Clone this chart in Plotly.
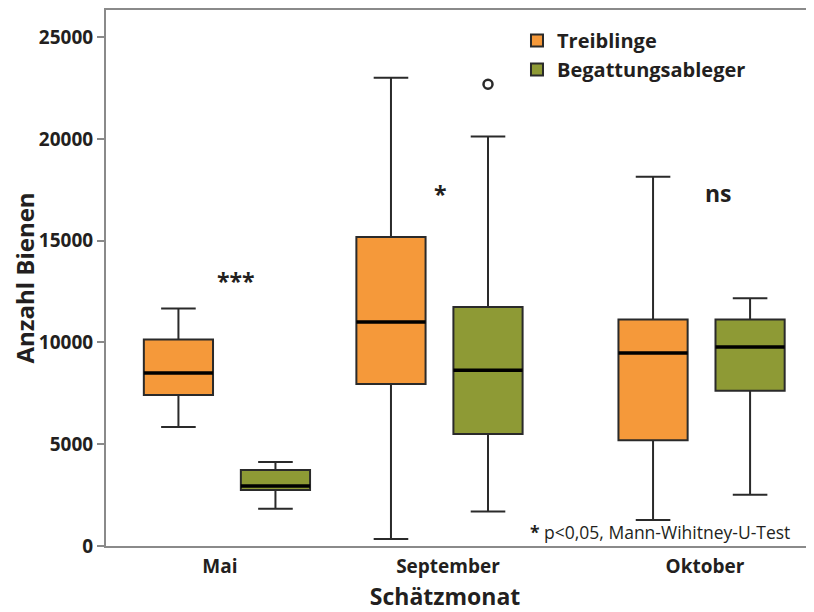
import plotly.graph_objects as go

# ---- data ----
months = ["Mai", "September", "Oktober"]
month_pos = [0.0, 1.0, 2.233]      # box-group positions on the x axis (uneven spacing as in reference)
label_pos = [-0.033, 1.04, 2.249]  # where the month labels sit

treib_low = [5840, 340, 1280]
treib_q1 = [7420, 7960, 5200]
treib_med = [8500, 11000, 9480]
treib_q3 = [10150, 15180, 11130]
treib_high = [11670, 23000, 18140]

begatt_low = [1830, 1690, 2520]
begatt_q1 = [2750, 5500, 7630]
begatt_med = [2950, 8630, 9780]
begatt_q3 = [3730, 11740, 11130]
begatt_high = [4130, 20110, 12170]

outlier_month = ["September"]
outlier_value = [22680]

sig_labels = ["***", "*", "ns"]

# ---- styles ----
ORANGE = "#F5993A"
GREEN = "#8E9A35"
LINE = "#2a2a2a"
AXIS = "#8a8a8a"
TXT = "#231f20"
FONT = "Open Sans, Noto Sans, DejaVu Sans, sans-serif"
BOXGAP = 0.087
BOXGROUPGAP = 0.287
box_offset = (1 - BOXGAP) / 4  # centre offset of each box within a group

fig = go.Figure()

fig.add_trace(go.Box(
    name="Treiblinge", x=month_pos, q1=treib_q1, median=treib_med, q3=treib_q3,
    lowerfence=treib_low, upperfence=treib_high, offsetgroup="T",
    fillcolor=ORANGE, line=dict(color=LINE, width=2), whiskerwidth=0.5,
    boxpoints=False, legendgroup="T"))
fig.add_trace(go.Box(
    name="Begattungsableger", x=month_pos, q1=begatt_q1, median=begatt_med, q3=begatt_q3,
    lowerfence=begatt_low, upperfence=begatt_high, offsetgroup="B",
    fillcolor=GREEN, line=dict(color=LINE, width=2), whiskerwidth=0.5,
    boxpoints=False, legendgroup="B"))

# thicker median lines
for med, grp in [(treib_med, "T"), (begatt_med, "B")]:
    fig.add_trace(go.Box(
        x=month_pos, q1=med, median=med, q3=med, lowerfence=med, upperfence=med,
        offsetgroup=grp, fillcolor="rgba(0,0,0,0)", line=dict(color="black", width=3.5),
        whiskerwidth=0, boxpoints=False, showlegend=False, hoverinfo="skip"))

# outlier of Begattungsableger in September
out_x = [month_pos[months.index(m)] + box_offset for m in outlier_month]
fig.add_trace(go.Scatter(
    x=out_x, y=outlier_value, mode="markers", showlegend=False,
    marker=dict(symbol="circle-open", size=9, color=LINE, line=dict(width=2.5, color=LINE))))

# significance labels
sig_y = [13020, 17270, 17340]
sig_dx = [0.042, 0.007, 0.082]
for lab, yv, dx, p in zip(sig_labels, sig_y, sig_dx, month_pos):
    fig.add_annotation(x=p + dx, y=yv, xref="x", yref="y", text=f"<b>{lab}</b>",
                       showarrow=False, font=dict(family=FONT, size=23, color=TXT))

fig.add_annotation(x=0.969, y=0.026, xref="paper", yref="paper", xanchor="right", yanchor="middle",
                   text="<b>*</b> p&lt;0,05, Mann-Wihitney-U-Test", showarrow=False,
                   font=dict(family=FONT, size=17.5, color=TXT))

fig.update_layout(
    width=806, height=604,
    margin=dict(l=98, r=0, t=2, b=66, autoexpand=False),
    paper_bgcolor="white", plot_bgcolor="white",
    boxmode="group", boxgap=BOXGAP, boxgroupgap=BOXGROUPGAP,
    font=dict(family=FONT, color=TXT),
    legend=dict(x=0.5805, y=0.9795, xanchor="left", yanchor="top",
                font=dict(family=FONT, size=20, color=TXT, weight="bold"),
                bgcolor="rgba(0,0,0,0)", tracegroupgap=0),
    showlegend=True,
)

fig.update_xaxes(
    range=[-0.569, 2.762], tickvals=label_pos, ticktext=[f"<b>{m}</b>" for m in months],
    showgrid=False, zeroline=False, showline=True, mirror=True, linecolor=AXIS, linewidth=2,
    ticks="", ticklabelstandoff=2, tickfont=dict(family=FONT, size=19, color=TXT),
    title=dict(text="<b>Schätzmonat</b>" + "&nbsp;" * 5,
               font=dict(family=FONT, size=23, color=TXT), standoff=12),
)
fig.update_yaxes(
    range=[0, 26330], tickvals=[0, 5000, 10000, 15000, 20000, 25000], tickformat="d",
    showgrid=False, zeroline=False, showline=True, linecolor=AXIS, linewidth=2,
    ticks="outside", ticklen=7, tickwidth=2, tickcolor=AXIS,
    tickfont=dict(family=FONT, size=19, color=TXT, weight="bold"),
    title=dict(text="<b>Anzahl Bienen</b>", font=dict(family=FONT, size=24, color=TXT), standoff=8),
)

fig.write_html("out.html")
